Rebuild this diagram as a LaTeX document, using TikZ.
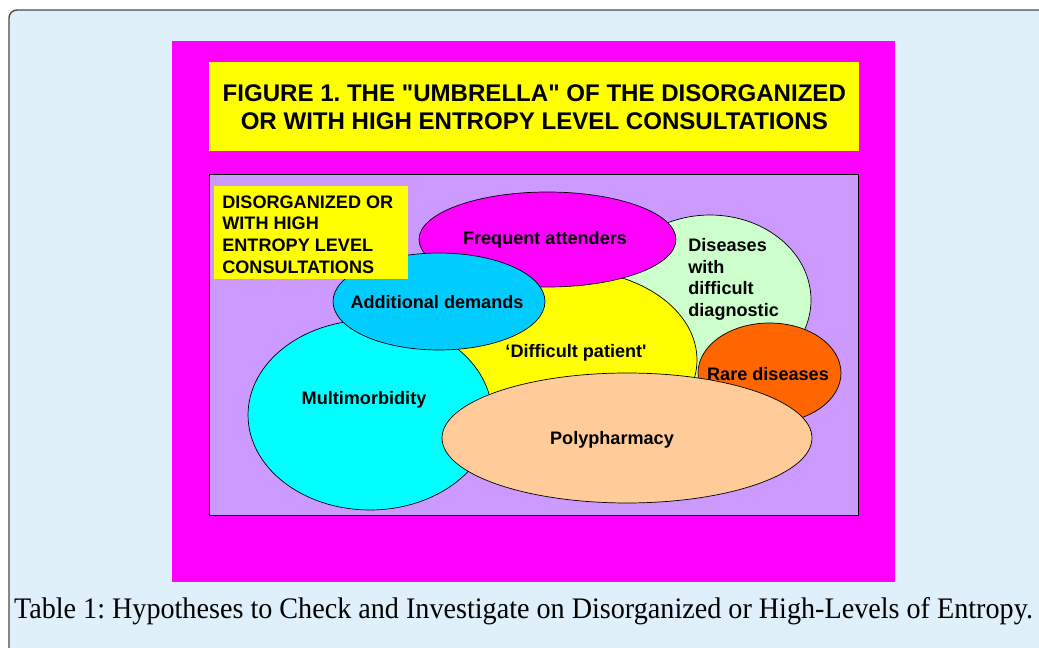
\documentclass[tikz,border=0pt]{standalone}
\usepackage{fontspec}
\setmainfont{Liberation Sans}
\newfontfamily\capfont{Liberation Serif}
\usetikzlibrary{shapes.geometric}

\definecolor{pagebg}{HTML}{DFF0FB}
\definecolor{framegray}{HTML}{4A4A4A}
\definecolor{umbmagenta}{HTML}{FF00FF}
\definecolor{umbyellow}{HTML}{FFFF00}
\definecolor{umbpurple}{HTML}{CC99FF}
\definecolor{diaggreen}{HTML}{CCFFCC}
\definecolor{multicyan}{HTML}{00FFFF}
\definecolor{addblue}{HTML}{00CCFF}
\definecolor{rareorange}{HTML}{FF6600}
\definecolor{polypeach}{HTML}{FFCC99}

\tikzset{
  box/.style={anchor=north west, inner sep=0pt},
  blob/.style={ellipse, draw=black, line width=0.4pt, inner sep=0pt},
  lbl/.style={font=\bfseries\fontsize{10.3}{12.3}\selectfont, inner sep=0pt},
}

\begin{document}
\frenchspacing
\begin{tikzpicture}[x=0.02cm,y=-0.02cm]
  \useasboundingbox (0,0) rectangle (1039,648);
  \clip (0,0) rectangle (1039,648);
  \fill[white] (0,0) rectangle (1039,648);
  % card behind the figure
  \draw[framegray, line width=0.8pt, fill=pagebg, rounded corners=0.16cm]
    (9,10) rectangle (1070,680);

  % panels
  \node (panel) [box, fill=umbmagenta, minimum width=14.46cm, minimum height=10.82cm] at (172,41) {};
  \node (title) [box, fill=umbyellow, minimum width=13cm, minimum height=1.78cm] at (209,62) {};
  \node (titletext) [align=center, inner sep=0pt, font=\bfseries\fontsize{13.7}{15.9}\selectfont]
    at (title.center) {FIGURE 1. THE \textquotedbl UMBRELLA\textquotedbl{} OF THE DISORGANIZED\\OR WITH HIGH ENTROPY LEVEL CONSULTATIONS};
  \node (field) [box, fill=umbpurple, draw=black, line width=0.4pt, minimum width=12.98cm, minimum height=6.82cm] at (209,174) {};

  % the circles of the umbrella
  \node (diag)  [blob, fill=diaggreen,  minimum width=4.04cm, minimum height=3.4cm]  at (710,300) {};
  \node (diff)  [blob, fill=umbyellow,  minimum width=5.08cm, minimum height=3.6cm]  at (570,360) {};
  \node (freq)  [blob, fill=umbmagenta, minimum width=5.14cm, minimum height=1.9cm]  at (547.5,239.5) {};
  \node (multi) [blob, fill=multicyan,  minimum width=4.88cm, minimum height=3.8cm]  at (370,415) {};
  \node (addl)  [blob, fill=addblue,    minimum width=4.24cm, minimum height=1.94cm] at (439,301.5) {};
  \node (rare)  [blob, fill=rareorange, minimum width=2.86cm, minimum height=2cm]    at (769.5,373) {};
  \node (poly)  [blob, fill=polypeach,  minimum width=7.4cm,  minimum height=2.6cm]  at (627,438) {};

  \node (freqtext)  [lbl] at (545,240) {Frequent attenders};
  \node (diagtext)  [lbl, anchor=west, align=left] at (688,279.5) {Diseases\\with\\difficult\\diagnostic};
  \node (addltext)  [lbl] at (437,302) {Additional demands};
  \node (difftext)  [lbl] at (576,353) {‘Difficult patient\textquotesingle};
  \node (multitext) [lbl] at (364,400) {Multimorbidity};
  \node (raretext)  [lbl] at (768,374) {Rare diseases};
  \node (polytext)  [lbl] at (612,440) {Polypharmacy};

  % legend box
  \node (legend) [box, fill=umbyellow, minimum width=3.88cm, minimum height=1.86cm] at (214,186) {};
  \node (legendtext) [lbl, anchor=west, align=left] at (222,234.5)
    {DISORGANIZED OR\\WITH HIGH\\ENTROPY LEVEL\\CONSULTATIONS};

  % caption
  \node (caption) [anchor=base, inner sep=0pt] at (523.5,619)
    {\resizebox{20.38cm}{0.42cm}{\capfont Table 1: Hypotheses to Check and Investigate on Disorganized or High-Levels of Entropy.}};
\end{tikzpicture}
\end{document}
